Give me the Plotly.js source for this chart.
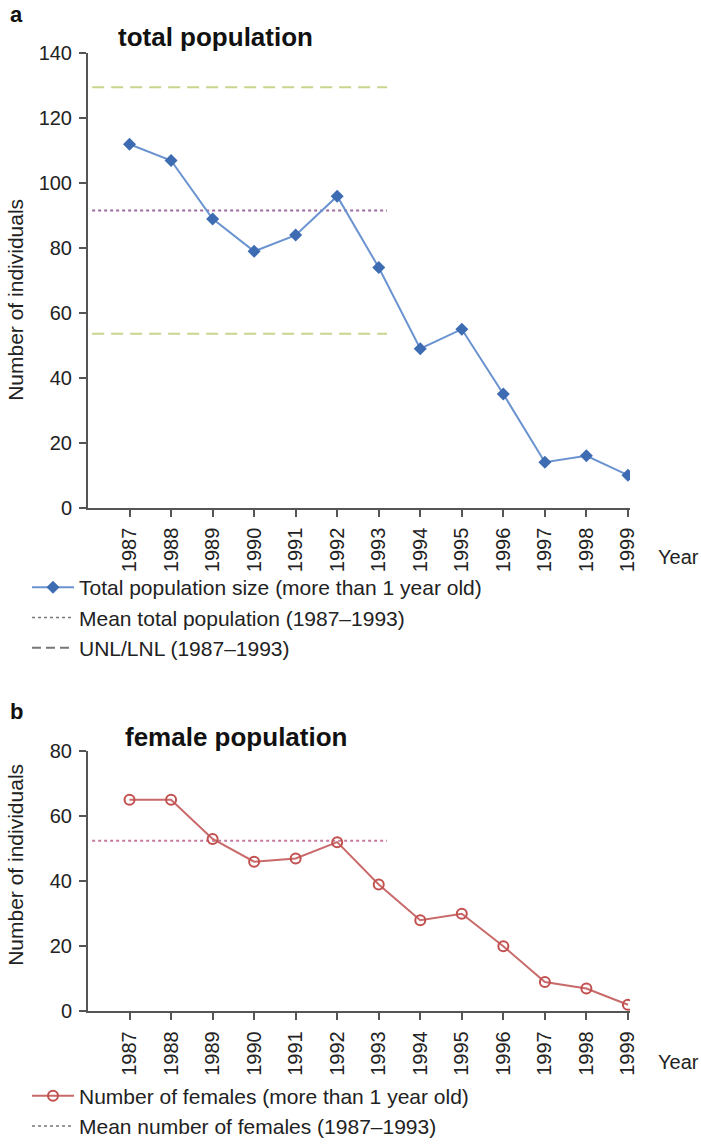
<!DOCTYPE html>
<html>
<head>
<meta charset="utf-8">
<script src="https://cdn.plot.ly/plotly-3.0.1.min.js"></script>
<style>html,body{margin:0;padding:0;background:#fff;}#chart{width:701px;height:1147px;}</style>
</head>
<body>
<div id="chart"></div>
<script>
// ---- data ----
const years = [1987, 1988, 1989, 1990, 1991, 1992, 1993, 1994, 1995, 1996, 1997, 1998, 1999];
const yearLabels = years.map(String);
const totalPop = [112, 107, 89, 79, 84, 96, 74, 49, 55, 35, 14, 16, 10];
const females = [65, 65, 53, 46, 47, 52, 39, 28, 30, 20, 9, 7, 2];
const refSpan = [1986.1, 1993.2];          // x-extent of the 1987–1993 reference lines
const meanTotal = 91.6;
const unlTotal = 129.6;
const lnlTotal = 53.6;
const meanFemales = 52.4;
const yTicksTop = [0, 20, 40, 60, 80, 100, 120, 140];
const yTicksBottom = [0, 20, 40, 60, 80];

const FONT = 'Liberation Sans, Arial, Helvetica, sans-serif';
const TXT = '#222222';
const W = 701, H = 1147;
const px = v => v / W;
const py = v => 1 - v / H;

const traces = [
  // top panel
  {x: refSpan, y: [unlTotal, unlTotal], mode: 'lines', line: {color: '#c6d68c', width: 2, dash: '12px,7px'},
   xaxis: 'x', yaxis: 'y', showlegend: false, hoverinfo: 'skip'},
  {x: refSpan, y: [lnlTotal, lnlTotal], mode: 'lines', line: {color: '#c6d68c', width: 2, dash: '12px,7px'},
   xaxis: 'x', yaxis: 'y', showlegend: false, hoverinfo: 'skip'},
  {x: refSpan, y: [meanTotal, meanTotal], mode: 'lines', line: {color: '#9a6b9c', width: 2, dash: 'dot'},
   xaxis: 'x', yaxis: 'y', showlegend: false, hoverinfo: 'skip'},
  {x: years, y: totalPop, mode: 'lines+markers', name: 'Total population size (more than 1 year old)',
   line: {color: '#6a93d0', width: 2}, marker: {symbol: 'diamond', size: 10, color: '#3d6cb3'},
   xaxis: 'x', yaxis: 'y', legend: 'legend'},
  {x: [null], y: [null], mode: 'lines', name: 'Mean total population (1987–1993)',
   line: {color: '#777777', width: 1.5, dash: 'dot'}, xaxis: 'x', yaxis: 'y', legend: 'legend'},
  {x: [null], y: [null], mode: 'lines', name: 'UNL/LNL (1987–1993)',
   line: {color: '#777777', width: 2, dash: '9px,5px'}, xaxis: 'x', yaxis: 'y', legend: 'legend'},
  // bottom panel
  {x: refSpan, y: [meanFemales, meanFemales], mode: 'lines', line: {color: '#c47a9c', width: 2, dash: 'dot'},
   xaxis: 'x2', yaxis: 'y2', showlegend: false, hoverinfo: 'skip'},
  {x: years, y: females, mode: 'lines+markers', name: 'Number of females (more than 1 year old)',
   line: {color: '#c96a6a', width: 2}, marker: {symbol: 'circle-open', size: 10, color: '#c2504f', line: {width: 2}},
   xaxis: 'x2', yaxis: 'y2', legend: 'legend2'},
  {x: [null], y: [null], mode: 'lines', name: 'Mean number of females (1987–1993)',
   line: {color: '#777777', width: 1.5, dash: 'dot'}, xaxis: 'x2', yaxis: 'y2', legend: 'legend2'}
];

const xCommon = {
  range: [1986, 1999.05], tickmode: 'array', tickvals: years, ticktext: yearLabels, tickangle: -90,
  showline: true, linecolor: '#555555', linewidth: 2, ticks: 'outside', ticklen: 7, tickwidth: 2, tickcolor: '#555555',
  showgrid: false, zeroline: false, tickfont: {family: FONT, size: 20, color: TXT}, fixedrange: true,
  ticklabelstandoff: 3
};
const yCommon = {
  showline: true, linecolor: '#555555', linewidth: 2, ticks: 'outside', ticklen: 7, tickwidth: 2, tickcolor: '#555555',
  showgrid: false, zeroline: false, tickfont: {family: FONT, size: 20, color: TXT}, tickmode: 'array', fixedrange: true,
  ticklabelstandoff: 3
};

const layout = {
  width: W, height: H, margin: {l: 0, r: 0, t: 0, b: 0},
  paper_bgcolor: '#ffffff', plot_bgcolor: '#ffffff',
  font: {family: FONT, color: TXT},
  xaxis: Object.assign({}, xCommon, {domain: [px(88), px(630)], anchor: 'y'}),
  yaxis: Object.assign({}, yCommon, {domain: [py(513), py(54)], range: [0, 140], tickvals: yTicksTop, anchor: 'x'}),
  xaxis2: Object.assign({}, xCommon, {domain: [px(88), px(630)], anchor: 'y2'}),
  yaxis2: Object.assign({}, yCommon, {domain: [py(1022), py(759)], range: [0, 80], tickvals: yTicksBottom, anchor: 'x2'}),
  legend: {x: px(27), y: py(573), xanchor: 'left', yanchor: 'top', font: {family: FONT, size: 21, color: TXT},
           itemwidth: 42, bgcolor: 'rgba(0,0,0,0)', traceorder: 'normal'},
  legend2: {x: px(27), y: py(1087), xanchor: 'left', yanchor: 'top', font: {family: FONT, size: 21, color: TXT},
           itemwidth: 42, bgcolor: 'rgba(0,0,0,0)', traceorder: 'normal'},
  annotations: [
    {text: '<b>a</b>', xref: 'paper', yref: 'paper', x: px(8), y: 1, xanchor: 'left', yanchor: 'top', showarrow: false,
     font: {family: FONT, size: 22, color: '#111'}},
    {text: '<b>total population</b>', xref: 'paper', yref: 'paper', x: px(116), y: py(37), xanchor: 'left', yanchor: 'middle', showarrow: false,
     font: {family: FONT, size: 26, color: '#111'}},
    {text: 'Number of individuals', xref: 'paper', yref: 'paper', x: px(16), y: py(303), xanchor: 'center', yanchor: 'middle', textangle: -90, showarrow: false,
     font: {family: FONT, size: 21, color: TXT}},
    {text: 'Year', xref: 'paper', yref: 'paper', x: px(656), y: py(563), xanchor: 'left', yanchor: 'middle', showarrow: false,
     font: {family: FONT, size: 20, color: TXT}},
    {text: '<b>b</b>', xref: 'paper', yref: 'paper', x: px(8), y: py(719), xanchor: 'left', yanchor: 'middle', showarrow: false,
     font: {family: FONT, size: 22, color: '#111'}},
    {text: '<b>female population</b>', xref: 'paper', yref: 'paper', x: px(123), y: py(745), xanchor: 'left', yanchor: 'middle', showarrow: false,
     font: {family: FONT, size: 26, color: '#111'}},
    {text: 'Number of individuals', xref: 'paper', yref: 'paper', x: px(16), y: py(874), xanchor: 'center', yanchor: 'middle', textangle: -90, showarrow: false,
     font: {family: FONT, size: 21, color: TXT}},
    {text: 'Year', xref: 'paper', yref: 'paper', x: px(656), y: py(1073), xanchor: 'left', yanchor: 'middle', showarrow: false,
     font: {family: FONT, size: 20, color: TXT}}
  ]
};

Plotly.newPlot('chart', traces, layout, {displayModeBar: false, staticPlot: true});
</script>
</body>
</html>
